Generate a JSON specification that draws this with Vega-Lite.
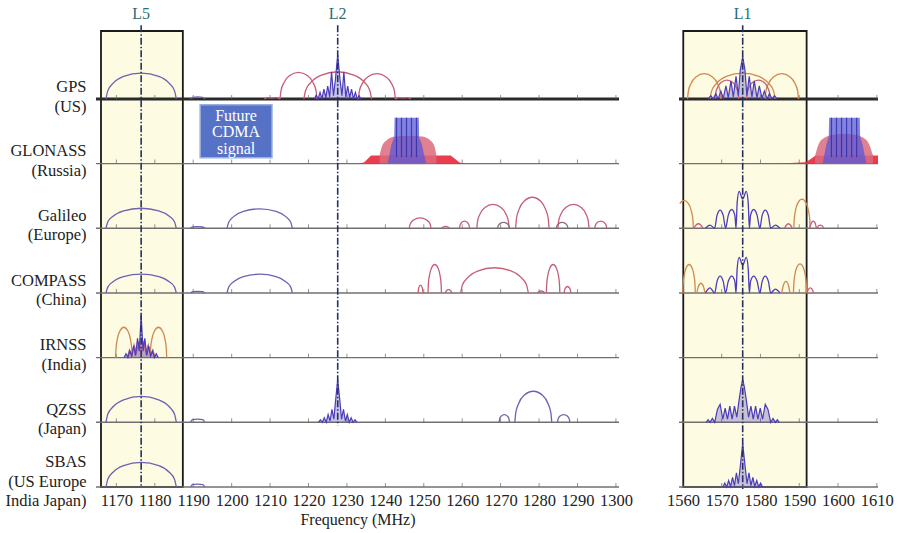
{
"$schema":"https://vega.github.io/schema/vega-lite/v6.json",
"width":803,"height":456,
"autosize":{"type":"none"},
"padding":{"left":96,"top":31,"right":0,"bottom":46},
"background":"#ffffff",
"config":{"view":{"stroke":null},"font":"Liberation Serif","text":{"font":"Liberation Serif"}},
"datasets":{
"boxes":[{"x":1166.0,"x2":1187.3,"y":0,"y2":7.05},{"x":1560.1,"x2":1591.9,"y":0,"y2":7.05}],
"rows":[{"y":6,"x":1164.7,"x2":1300.8},{"y":6,"x":1559,"x2":1610.3},{"y":5,"x":1164.7,"x2":1300.8},{"y":5,"x":1559,"x2":1610.3},{"y":4,"x":1164.7,"x2":1300.8},{"y":4,"x":1559,"x2":1610.3},{"y":3,"x":1164.7,"x2":1300.8},{"y":3,"x":1559,"x2":1610.3},{"y":2,"x":1164.7,"x2":1300.8},{"y":2,"x":1559,"x2":1610.3},{"y":1,"x":1164.7,"x2":1300.8},{"y":1,"x":1559,"x2":1610.3},{"y":0,"x":1164.7,"x2":1300.8},{"y":0,"x":1559,"x2":1610.3}],
"ticks":[
{"y":6,"xs":[1170,1180,1190,1200,1210,1220,1230,1240,1250,1260,1270,1280,1290,1300,1560,1570,1580,1590,1600,1610]},
{"y":5,"xs":[1170,1180,1190,1200,1210,1220,1230,1240,1250,1260,1270,1280,1290,1300,1560,1570,1580,1590,1600,1610]},
{"y":4,"xs":[1170,1180,1190,1200,1210,1220,1230,1240,1250,1260,1270,1280,1290,1300,1560,1570,1580,1590,1600,1610]},
{"y":3,"xs":[1170,1180,1190,1200,1210,1220,1230,1240,1250,1260,1270,1280,1290,1300,1560,1570,1580,1590,1600,1610]},
{"y":2,"xs":[1170,1180,1190,1200,1210,1220,1230,1240,1250,1260,1270,1280,1290,1300,1560,1570,1580,1590,1600,1610]},
{"y":1,"xs":[1170,1180,1190,1200,1210,1220,1230,1240,1250,1260,1270,1280,1290,1300,1560,1570,1580,1590,1600,1610]},
{"y":0,"xs":[1170,1180,1190,1200,1210,1220,1230,1240,1250,1260,1270,1280,1290,1300,1560,1570,1580,1590,1600,1610]}],
"glo":[
{"id":"r2","k":"red","xs":[1233.3,1234.5,1235.5,1236.3,1257.0,1258.0,1259.2,1260.3],"ys":[5,5.02,5.08,5.125,5.125,5.08,5.02,5]},
{"id":"r1","k":"red","xs":[1585.0,1589.0,1591.5,1592.5,1593.6,1594.2,1610.3],"ys":[5,5.012,5.02,5.05,5.1,5.125,5.125]},
{"id":"d2","k":"dome","xs":[1238.5,1239.2,1240.5,1242.5,1246.0,1249.5,1251.5,1252.7,1253.3],"ys":[5.125,5.28,5.37,5.42,5.43,5.42,5.37,5.28,5.125]},
{"id":"d1","k":"dome","xs":[1594.1,1595.0,1596.5,1599.0,1601.5,1604.0,1606.5,1608.0,1609.0],"ys":[5.125,5.3,5.4,5.45,5.46,5.45,5.4,5.3,5.125]},
{"id":"b2","k":"blue","xs":[1240.6,1241.6,1242.3,1242.4,1248.7,1248.8,1249.5,1250.6],"ys":[5,5.3,5.4,5.71,5.71,5.4,5.3,5]},
{"id":"b1","k":"blue","xs":[1596.0,1597.0,1597.6,1597.7,1605.6,1605.7,1606.3,1607.3],"ys":[5,5.3,5.42,5.71,5.71,5.42,5.3,5]}],
"stripes":[{"x":1242.9,"y":5.1,"y2":5.71},{"x":1244.2,"y":5.1,"y2":5.71},{"x":1245.5,"y":5.1,"y2":5.71},{"x":1246.8,"y":5.1,"y2":5.71},{"x":1248.1,"y":5.1,"y2":5.71},{"x":1598.3,"y":5.1,"y2":5.71},{"x":1599.6,"y":5.1,"y2":5.71},{"x":1600.9,"y":5.1,"y2":5.71},{"x":1602.2,"y":5.1,"y2":5.71},{"x":1603.5,"y":5.1,"y2":5.71},{"x":1604.8,"y":5.1,"y2":5.71}],
"arcs":[
{"id":"g5","c":"bl","xs":[1167.3,1167.76,1169.13,1171.88,1176.45,1181.03,1183.77,1185.14,1185.6],"ys":[6,6.124,6.24,6.348,6.4,6.348,6.24,6.124,6]},
{"id":"gb","c":"bl","xs":[1189.3,1189.8,1191.1,1192.5,1193.0],"ys":[6,6.025,6.03,6.025,6]},
{"id":"g2a","c":"pk","xs":[1212.6,1212.84,1213.56,1215.0,1217.4,1219.8,1221.24,1221.96,1222.2],"ys":[6,6.127,6.246,6.357,6.41,6.357,6.246,6.127,6]},
{"id":"g2b","c":"pk","xs":[1218.8,1219.24,1220.56,1223.2,1227.6,1232.0,1234.64,1235.96,1236.4],"ys":[6,6.13,6.252,6.365,6.42,6.365,6.252,6.13,6]},
{"id":"g2c","c":"pk","xs":[1233.0,1233.24,1233.96,1235.4,1237.8,1240.2,1241.64,1242.36,1242.6],"ys":[6,6.121,6.234,6.339,6.39,6.339,6.234,6.121,6]},
{"id":"g2d","c":"pk","xs":[1208.5,1209.5,1210.5,1211.5,1212.6],"ys":[6,6.02,6.015,6.02,6]},
{"id":"g2e","c":"pk","xs":[1242.6,1243.6,1244.6,1245.6,1246.6],"ys":[6,6.02,6.015,6.02,6]},
{"id":"g1a","c":"or","xs":[1561.2,1561.42,1562.06,1563.35,1565.5,1567.65,1568.94,1569.59,1569.8],"ys":[6,6.121,6.234,6.339,6.39,6.339,6.234,6.121,6]},
{"id":"g1b","c":"or","xs":[1581.2,1581.42,1582.06,1583.35,1585.5,1587.65,1588.94,1589.59,1589.8],"ys":[6,6.121,6.234,6.339,6.39,6.339,6.234,6.121,6]},
{"id":"g1c","c":"or","xs":[1567.0,1567.42,1568.68,1571.2,1575.4,1579.6,1582.12,1583.38,1583.8],"ys":[6,6.124,6.24,6.348,6.4,6.348,6.24,6.124,6]},
{"id":"g1d","c":"pk","xs":[1568.3,1568.45,1568.91,1569.83,1571.35,1572.88,1573.79,1574.25,1574.4],"ys":[6,6.09,6.174,6.252,6.29,6.252,6.174,6.09,6]},
{"id":"g1e","c":"pk","xs":[1576.4,1576.55,1577.01,1577.93,1579.45,1580.98,1581.89,1582.35,1582.5],"ys":[6,6.09,6.174,6.252,6.29,6.252,6.174,6.09,6]},
{"id":"e5a","c":"bl","xs":[1167.3,1167.76,1169.13,1171.88,1176.45,1181.03,1183.77,1185.14,1185.6],"ys":[4,4.096,4.186,4.27,4.31,4.27,4.186,4.096,4]},
{"id":"eb","c":"bl","xs":[1189.3,1189.8,1191.1,1192.5,1193.0],"ys":[4,4.02,4.025,4.02,4]},
{"id":"e5b","c":"bl","xs":[1198.8,1199.23,1200.5,1203.05,1207.3,1211.55,1214.1,1215.38,1215.8],"ys":[4,4.093,4.18,4.261,4.3,4.261,4.18,4.093,4]},
{"id":"e61","c":"pk","xs":[1246.2,1246.49,1247.34,1249.05,1250.76,1251.62,1251.9],"ys":[4,4.07,4.128,4.16,4.128,4.07,4]},
{"id":"e62","c":"pk","xs":[1254.6,1255.0,1255.65,1256.3,1256.7],"ys":[4,4.02,4.03,4.02,4]},
{"id":"e63","c":"pk","xs":[1259.3,1259.43,1259.82,1260.6,1261.38,1261.77,1261.9],"ys":[4,4.048,4.088,4.11,4.088,4.048,4]},
{"id":"e64","c":"pk","xs":[1263.8,1264.01,1264.64,1265.9,1268.0,1270.1,1271.36,1271.99,1272.2],"ys":[4,4.115,4.222,4.322,4.37,4.322,4.222,4.115,4]},
{"id":"e65","c":"dr","xs":[1269.2,1269.36,1269.82,1270.75,1271.68,1272.15,1272.3],"ys":[4,4.04,4.072,4.09,4.072,4.04,4]},
{"id":"e66","c":"pk","xs":[1273.9,1274.12,1274.77,1276.08,1278.25,1280.43,1281.73,1282.38,1282.6],"ys":[4,4.149,4.288,4.418,4.48,4.418,4.288,4.149,4]},
{"id":"e67","c":"pk","xs":[1284.9,1285.1,1285.71,1286.93,1288.95,1290.98,1292.19,1292.8,1293.0],"ys":[4,4.115,4.222,4.322,4.37,4.322,4.222,4.115,4]},
{"id":"e68","c":"dr","xs":[1284.5,1284.65,1285.1,1286.0,1286.9,1287.35,1287.5],"ys":[4,4.04,4.072,4.09,4.072,4.04,4]},
{"id":"e69","c":"pk","xs":[1294.5,1294.66,1295.12,1296.05,1296.98,1297.45,1297.6],"ys":[4,4.048,4.088,4.11,4.088,4.048,4]},
{"id":"e1a","c":"or","xs":[1559.2,1559.6,1560.3,1561.26,1562.22,1562.58,1562.7],"ys":[4.382,4.41,4.43,4.394,4.258,4.134,4]},
{"id":"e1b","c":"or","xs":[1588.6,1588.71,1589.02,1589.65,1590.7,1591.75,1592.38,1592.7,1592.8],"ys":[4,4.14,4.27,4.392,4.45,4.392,4.27,4.14,4]},
{"id":"e1c","c":"pk","xs":[1592.7,1593.1,1593.6,1594.1,1594.5,1595.0,1595.4,1595.9,1596.3],"ys":[4,4.08,4.11,4.08,4,4.04,4.05,4.04,4]},
{"id":"e1d","c":"pk","xs":[1562.8,1563.4,1564.0,1564.6,1565.2],"ys":[4,4.05,4.07,4.05,4]},
{"id":"e1e","c":"pk","xs":[1586.2,1586.7,1587.2,1587.7,1588.2],"ys":[4,4.05,4.07,4.05,4]},
{"id":"e1f","c":"dk","xs":[1565.8,1567.0,1568.2,1568.8,1569.6,1570.4,1571.0,1571.7,1572.6,1573.4,1573.7,1574.0,1574.5,1575.42,1576.34,1576.84,1577.14,1577.44,1578.24,1579.14,1579.84,1580.44,1581.24,1582.04,1582.64,1583.84,1585.04],"ys":[4,4.05,4,4.2,4.28,4.2,4,4.2,4.29,4.2,4,4.4,4.57,4.45,4.57,4.4,4,4.2,4.29,4.2,4,4.2,4.28,4.2,4,4.05,4]},
{"id":"c5a","c":"bl","xs":[1167.3,1167.76,1169.13,1171.88,1176.45,1181.03,1183.77,1185.14,1185.6],"ys":[3,3.09,3.174,3.252,3.29,3.252,3.174,3.09,3]},
{"id":"cb","c":"bl","xs":[1189.3,1189.8,1191.1,1192.5,1193.0],"ys":[3,3.02,3.025,3.02,3]},
{"id":"c5b","c":"bl","xs":[1198.8,1199.23,1200.5,1203.05,1207.3,1211.55,1214.1,1215.38,1215.8],"ys":[3,3.09,3.174,3.252,3.29,3.252,3.174,3.09,3]},
{"id":"c31","c":"pk","xs":[1248.5,1248.7,1249.15,1249.6,1249.8],"ys":[3,3.08,3.12,3.08,3]},
{"id":"c32","c":"pk","xs":[1251.1,1251.19,1251.45,1251.98,1252.85,1253.73,1254.25,1254.51,1254.6],"ys":[3,3.136,3.264,3.383,3.44,3.383,3.264,3.136,3]},
{"id":"c33","c":"pk","xs":[1255.6,1255.9,1256.45,1257.0,1257.3],"ys":[3,3.035,3.05,3.035,3]},
{"id":"c34","c":"pk","xs":[1259.6,1260.04,1261.36,1264.0,1268.4,1272.8,1275.44,1276.76,1277.2],"ys":[3,3.121,3.234,3.339,3.39,3.339,3.234,3.121,3]},
{"id":"c35","c":"pk","xs":[1279.6,1280.0,1280.55,1281.1,1281.5],"ys":[3,3.02,3.03,3.02,3]},
{"id":"c36","c":"pk","xs":[1281.9,1281.99,1282.25,1282.78,1283.65,1284.53,1285.05,1285.31,1285.4],"ys":[3,3.136,3.264,3.383,3.44,3.383,3.264,3.136,3]},
{"id":"c37","c":"pk","xs":[1286.5,1286.8,1287.4,1288.0,1288.3],"ys":[3,3.07,3.1,3.07,3]},
{"id":"c1a","c":"or","xs":[1560.0,1560.08,1560.32,1560.8,1561.6,1562.4,1562.88,1563.12,1563.2],"ys":[3,3.136,3.264,3.383,3.44,3.383,3.264,3.136,3]},
{"id":"c1b","c":"or","xs":[1588.5,1588.59,1588.84,1589.35,1590.2,1591.05,1591.56,1591.82,1591.9],"ys":[3,3.14,3.27,3.392,3.45,3.392,3.27,3.14,3]},
{"id":"c1c","c":"or","xs":[1563.6,1564.0,1564.65,1565.3,1565.7],"ys":[3,3.1,3.15,3.1,3]},
{"id":"c1d","c":"or","xs":[1585.5,1585.9,1586.55,1587.2,1587.6],"ys":[3,3.12,3.18,3.12,3]},
{"id":"c1e","c":"pk","xs":[1592.0,1592.4,1592.85,1593.3,1593.7],"ys":[3,3.06,3.08,3.06,3]},
{"id":"c1f","c":"dk","xs":[1565.8,1567.0,1568.2,1568.8,1569.6,1570.4,1571.0,1571.7,1572.6,1573.4,1573.7,1574.0,1574.5,1575.42,1576.34,1576.84,1577.14,1577.44,1578.24,1579.14,1579.84,1580.44,1581.24,1582.04,1582.64,1583.84,1585.04],"ys":[3,3.08,3,3.18,3.26,3.18,3,3.18,3.26,3.18,3,3.38,3.55,3.43,3.55,3.38,3,3.18,3.26,3.18,3,3.18,3.26,3.18,3,3.06,3]},
{"id":"i1","c":"or","xs":[1169.8,1169.91,1170.23,1170.88,1171.95,1173.03,1173.67,1173.99,1174.1],"ys":[2,2.146,2.282,2.409,2.47,2.409,2.282,2.146,2]},
{"id":"i2","c":"or","xs":[1178.8,1178.91,1179.23,1179.88,1180.95,1182.03,1182.67,1182.99,1183.1],"ys":[2,2.146,2.282,2.409,2.47,2.409,2.282,2.146,2]},
{"id":"q5","c":"bl","xs":[1167.3,1167.76,1169.13,1171.88,1176.45,1181.03,1183.77,1185.14,1185.6],"ys":[1,1.124,1.24,1.348,1.4,1.348,1.24,1.124,1]},
{"id":"qb","c":"bl","xs":[1189.3,1189.8,1191.1,1192.5,1193.0],"ys":[1,1.04,1.05,1.04,1]},
{"id":"q61","c":"bl","xs":[1269.6,1269.74,1270.14,1270.95,1271.76,1272.17,1272.3],"ys":[1,1.053,1.096,1.12,1.096,1.053,1]},
{"id":"q62","c":"bl","xs":[1273.7,1273.94,1274.66,1276.1,1278.5,1280.9,1282.34,1283.06,1283.3],"ys":[1,1.149,1.288,1.418,1.48,1.418,1.288,1.149,1]},
{"id":"q63","c":"bl","xs":[1284.8,1284.96,1285.44,1286.4,1287.36,1287.84,1288.0],"ys":[1,1.053,1.096,1.12,1.096,1.053,1]},
{"id":"s5","c":"bl","xs":[1167.3,1167.76,1169.13,1171.88,1176.45,1181.03,1183.77,1185.14,1185.6],"ys":[0,0.118,0.228,0.331,0.38,0.331,0.228,0.118,0]},
{"id":"sb","c":"bl","xs":[1189.3,1189.8,1191.1,1192.5,1193.0],"ys":[0,0.035,0.045,0.035,0]}],
"dense":[
{"id":"g2","c":"dk","b":6,"xs":[1221.5,1222.0,1222.5,1223.0,1223.5,1224.0,1224.5,1225.0,1225.5,1226.0,1226.5,1227.0,1227.6,1228.2,1228.7,1229.2,1229.7,1230.2,1230.7,1231.2,1231.7,1232.2,1232.7,1233.2,1233.6],"ys":[6,6.06,6,6.1,6,6.15,6.02,6.2,6.03,6.42,6.05,6.3,6.68,6.3,6.05,6.42,6.03,6.2,6.02,6.15,6,6.1,6,6.05,6]},
{"id":"g1","c":"dk","b":6,"xs":[1566.5,1567.2,1567.8,1568.5,1569.1,1569.8,1570.4,1571.1,1571.7,1572.4,1573.0,1573.7,1574.3,1574.8,1575.42,1576.0,1576.5,1577.1,1577.8,1578.4,1579.1,1579.7,1580.4,1581.0,1581.7,1582.3,1583.0,1583.6,1584.3],"ys":[6,6.05,6,6.08,6,6.12,6.01,6.2,6.02,6.28,6.03,6.35,6.05,6.45,6.65,6.45,6.05,6.35,6.03,6.28,6.02,6.2,6.01,6.12,6,6.08,6,6.05,6]},
{"id":"ip","c":"pk","b":2,"xs":[1172.8,1173.4,1174.0,1174.6,1175.2,1175.9,1176.45,1177.0,1177.7,1178.3,1178.9,1179.5,1180.1],"ys":[2,2.12,2.05,2.2,2.08,2.25,2.1,2.25,2.08,2.2,2.05,2.12,2]},
{"id":"id","c":"dk","b":2,"xs":[1172.0,1172.5,1173.0,1173.5,1174.0,1174.5,1175.0,1175.5,1175.95,1176.45,1176.95,1177.4,1177.9,1178.4,1178.9,1179.4,1179.9,1180.4,1180.9],"ys":[2,2.06,2,2.1,2.02,2.18,2.03,2.3,2.1,2.65,2.1,2.3,2.03,2.18,2.02,2.1,2,2.06,2]},
{"id":"q2","c":"dk","b":1,"xs":[1222.6,1223.1,1223.6,1224.1,1224.6,1225.1,1225.6,1226.1,1226.6,1227.0,1227.6,1228.2,1228.6,1229.1,1229.6,1230.1,1230.6,1231.1,1231.6,1232.1,1232.6],"ys":[1,1.04,1,1.07,1,1.12,1.02,1.2,1.05,1.31,1.66,1.31,1.05,1.2,1.02,1.12,1,1.07,1,1.04,1]},
{"id":"q1","c":"dk","b":1,"xs":[1566.0,1566.5,1567.0,1567.6,1568.2,1568.9,1569.6,1570.3,1570.9,1571.5,1572.1,1572.7,1573.3,1573.9,1574.5,1575.0,1575.42,1575.84,1576.34,1576.94,1577.54,1578.14,1578.74,1579.34,1579.94,1580.54,1581.24,1581.94,1582.64,1583.24,1583.84,1584.34,1584.84],"ys":[1,1.04,1,1.06,1,1.2,1.28,1.05,1.22,1.05,1.25,1.05,1.25,1.08,1.35,1.55,1.66,1.55,1.35,1.08,1.25,1.05,1.25,1.05,1.22,1.05,1.28,1.2,1,1.06,1,1.04,1]},
{"id":"s1","c":"dk","b":0,"xs":[1570.3,1570.8,1571.3,1571.8,1572.3,1572.8,1573.3,1573.8,1574.3,1574.8,1575.42,1576.04,1576.54,1577.04,1577.54,1578.04,1578.54,1579.04,1579.54,1580.04,1580.54],"ys":[0,0.06,0,0.1,0.01,0.15,0.02,0.22,0.05,0.32,0.67,0.32,0.05,0.22,0.02,0.15,0.01,0.1,0,0.06,0]}],
"bands":[{"lab":"L5","x":1176.45,"y":7.14,"y2":0},{"lab":"L2","x":1227.6,"y":7.14,"y2":0.95},{"lab":"L1","x":1575.42,"y":7.14,"y2":-0.03}],
"cdma":[{"x":1191.8,"x2":1210.5,"y":5.09,"y2":5.91}],
"cdmaText":[{"x":1201.15,"y":5.74,"t":"Future\nCDMA\nsignal"}]
},
"encoding":{
"x":{"field":"x","type":"quantitative",
 "scale":{"type":"linear","domain":[1164.7,1300.8,1559,1610.3],"range":[0,523,583,782],"nice":false,"zero":false},
 "axis":{"values":[1170,1180,1190,1200,1210,1220,1230,1240,1250,1260,1270,1280,1290,1300,1560,1570,1580,1590,1600,1610],"format":"d","domain":false,"ticks":false,"tickSize":0,"grid":false,"labelPadding":5,"labelFont":"Liberation Serif","labelFontSize":16.5,"labelColor":"#222222","labelOverlap":false,"labelFlush":false,"title":"Frequency (MHz)","titleFont":"Liberation Serif","titleFontSize":16,"titleFontWeight":"normal","titleColor":"#222222","titleX":261.5,"titleAlign":"center","titlePadding":3}},
"y":{"field":"y","type":"quantitative","stack":null,
 "scale":{"domain":[0,7.05],"nice":false,"zero":false},
 "axis":{"values":[0.39,1.2,2.2,3.2,4.2,5.2,6.19],"labelExpr":"[['SBAS','(US Europe','India Japan)'],['QZSS','(Japan)'],['IRNSS','(India)'],['COMPASS','(China)'],['Galileo','(Europe)'],['GLONASS','(Russia)'],['GPS','(US)']][round(datum.value)]","domain":false,"ticks":false,"tickSize":0,"grid":false,"title":null,"labelAlign":"right","labelBaseline":"middle","labelPadding":10,"labelFont":"Liberation Serif","labelFontSize":16.5,"labelColor":"#222222","labelLineHeight":19.5,"labelOverlap":false,"labelBound":false,"labelFlush":false}}
},
"layer":[
{"data":{"name":"boxes"},"mark":{"type":"rect","fill":"#fdfbe2","stroke":"#1a1a1a","strokeWidth":1.8},"encoding":{"x2":{"field":"x2"},"y2":{"field":"y2"}}},
{"data":{"name":"rows"},"mark":{"type":"rule"},"encoding":{"x2":{"field":"x2"},"color":{"condition":{"test":"datum.y==6","value":"#2b2b2b"},"value":"#707070"},"strokeWidth":{"condition":{"test":"datum.y==6","value":3},"value":1.4}}},
{"data":{"name":"ticks"},"transform":[{"flatten":["xs"],"as":["x"]}],"mark":{"type":"tick","orient":"vertical","size":4,"thickness":1,"color":"#666666","yOffset":-2}},
{"data":{"name":"glo"},"transform":[{"filter":"datum.k=='red'"},{"flatten":["xs","ys"],"as":["x","y"]}],"mark":{"type":"area","color":"#e8283c","opacity":0.9},"encoding":{"y2":{"datum":5},"detail":{"field":"id"}}},
{"data":{"name":"glo"},"transform":[{"filter":"datum.k=='dome'"},{"flatten":["xs","ys"],"as":["x","y"]}],"mark":{"type":"area","color":"#dc6a7c","opacity":0.85,"interpolate":"monotone"},"encoding":{"y2":{"datum":5},"detail":{"field":"id"}}},
{"data":{"name":"glo"},"transform":[{"filter":"datum.k=='blue'"},{"flatten":["xs","ys"],"as":["x","y"]}],"mark":{"type":"area","color":"#5a58d6","opacity":0.75},"encoding":{"y2":{"datum":5},"detail":{"field":"id"}}},
{"data":{"name":"stripes"},"mark":{"type":"rule","color":"#2c2ca8","strokeWidth":1.2,"opacity":0.8},"encoding":{"y2":{"field":"y2"}}},
{"data":{"name":"dense"},"transform":[{"flatten":["xs","ys"],"as":["x","y"]}],"mark":{"type":"area","interpolate":"linear","opacity":0.3},"encoding":{"y2":{"field":"b"},"detail":{"field":"id"},"color":{"field":"c","type":"nominal","legend":null}}},
{"data":{"name":"arcs"},"transform":[{"flatten":["xs","ys"],"as":["x","y"]}],"mark":{"type":"line","interpolate":"monotone","strokeWidth":1.3},"encoding":{"detail":{"field":"id"},"color":{"field":"c","type":"nominal","scale":{"domain":["bl","pk","or","dk","dr"],"range":["#6d62b2","#c45f78","#cf8a50","#4b3db8","#8a6a80"]},"legend":null}}},
{"data":{"name":"dense"},"transform":[{"flatten":["xs","ys"],"as":["x","y"]}],"mark":{"type":"line","interpolate":"linear","strokeWidth":1.2},"encoding":{"detail":{"field":"id"},"color":{"field":"c","type":"nominal","legend":null}}},
{"data":{"name":"bands"},"mark":{"type":"rule","color":"#27315e","strokeWidth":1.6,"strokeDash":[7,2,1.5,2]},"encoding":{"y2":{"field":"y2"}}},
{"data":{"name":"bands"},"mark":{"type":"text","font":"Liberation Serif","color":"#2c6b78","fontSize":16,"dy":-11,"baseline":"middle"},"encoding":{"text":{"field":"lab"}}},
{"data":{"name":"cdma"},"mark":{"type":"rect","fill":"#5672c6","stroke":"#9aaee0","strokeWidth":1.5},"encoding":{"x2":{"field":"x2"},"y2":{"field":"y2"}}},
{"data":{"name":"cdmaText"},"mark":{"type":"text","font":"Liberation Serif","color":"#ffffff","fontSize":16,"lineBreak":"\n","lineHeight":16.5,"baseline":"middle"},"encoding":{"text":{"field":"t"}}}
]
}
